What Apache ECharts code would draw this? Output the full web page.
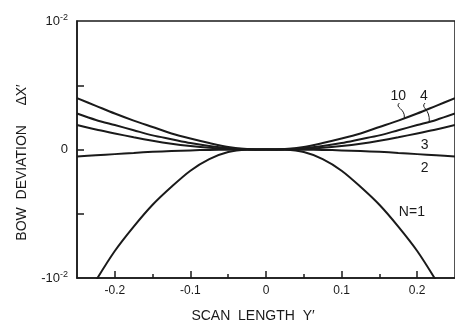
<!DOCTYPE html>
<html>
<head>
<meta charset="utf-8">
<script src="https://cdn.jsdelivr.net/npm/echarts@6/dist/echarts.min.js"></script>
<style>
html, body { margin: 0; padding: 0; background: #fff; }
#bow { width: 455px; height: 329px; }
</style>
</head>
<body>
<div id="bow"></div>
<script>
// scan length Y'
var scanY = [-0.25, -0.225, -0.2, -0.175, -0.15, -0.125, -0.1, -0.075, -0.05, -0.025, 0,
  0.025, 0.05, 0.075, 0.1, 0.125, 0.15, 0.175, 0.2, 0.225, 0.25];
// bow deviation dX', in units of 10^-2
var bowN1 = [-1.27, -1.02, -0.79, -0.6, -0.43, -0.29, -0.165, -0.075, -0.02, -0.002, 0,
  -0.002, -0.02, -0.075, -0.165, -0.29, -0.43, -0.6, -0.79, -1.02, -1.27];
var bowN2 = [-0.055, -0.045, -0.036, -0.027, -0.018, -0.012, -0.007, -0.003, -0.001, 0, 0,
  0, -0.001, -0.003, -0.007, -0.012, -0.018, -0.027, -0.036, -0.045, -0.055];
var bowN3 = [0.19, 0.155, 0.125, 0.095, 0.068, 0.045, 0.027, 0.013, 0.004, 0.001, 0,
  0.001, 0.004, 0.013, 0.027, 0.045, 0.068, 0.095, 0.125, 0.155, 0.19];
var bowN4 = [0.28, 0.23, 0.19, 0.15, 0.11, 0.08, 0.05, 0.027, 0.01, 0.002, 0,
  0.002, 0.01, 0.027, 0.05, 0.08, 0.11, 0.15, 0.19, 0.23, 0.28];
var bowN10 = [0.4, 0.34, 0.28, 0.225, 0.175, 0.125, 0.085, 0.05, 0.02, 0.004, 0,
  0.004, 0.02, 0.05, 0.085, 0.125, 0.175, 0.225, 0.28, 0.34, 0.4];

var xMajorTicks = [-0.2, -0.1, 0, 0.1, 0.2];
var xMinorTicks = [-0.15, -0.05, 0.05, 0.15];
var yTicks = [-0.5, 0, 0.5];
var yLabelVals = [-1, 0, 1];
var curveNames = ['N=1', '2', '3', '4', '10'];
var curveData = [bowN1, bowN2, bowN3, bowN4, bowN10];

var ink = '#1a1a1a';
var font = 'Liberation Sans';

var chart = echarts.init(document.getElementById('bow'));

var series = curveData.map(function (vals, k) {
  return {
    name: curveNames[k],
    type: 'line',
    data: scanY.map(function (x, i) { return [x, vals[i]]; }),
    smooth: 0.3,
    symbol: 'none',
    clip: true,
    silent: true,
    lineStyle: { color: ink, width: 2 }
  };
});

chart.setOption({
  animation: false,
  backgroundColor: '#fff',
  grid: {
    left: 77, top: 21, width: 380, height: 257,
    show: true, borderColor: ink, borderWidth: 1.5
  },
  xAxis: [{
    type: 'value', min: -0.25, max: 0.25, interval: 0.05,
    axisLine: { onZero: false, lineStyle: { color: ink, width: 1.5 } },
    axisTick: { inside: true, length: 7, customValues: xMajorTicks, lineStyle: { color: ink, width: 1.5 } },
    axisLabel: {
      customValues: xMajorTicks, margin: 7, color: ink, fontFamily: font, fontSize: 12,
      formatter: function (v) { return String(v); }
    },
    splitLine: { show: false },
    name: "SCAN  LENGTH  Y\u2032",
    nameLocation: 'middle', nameGap: 31,
    nameTextStyle: { color: ink, fontFamily: font, fontSize: 14, padding: [0, 26, 0, 0] }
  }, {
    type: 'value', min: -0.25, max: 0.25, interval: 0.05, position: 'bottom',
    axisLine: { show: false, onZero: false },
    axisTick: { inside: true, length: 4, customValues: xMinorTicks, lineStyle: { color: ink, width: 1.5 } },
    axisLabel: { show: false },
    splitLine: { show: false }
  }],
  yAxis: {
    type: 'value', min: -1, max: 1, interval: 0.5,
    axisLine: { show: true, onZero: false, lineStyle: { color: ink, width: 1.5 } },
    axisTick: { show: true, inside: true, length: 7, customValues: yTicks, lineStyle: { color: ink, width: 1.5 } },
    axisLabel: {
      customValues: yLabelVals, margin: 9, color: ink, fontFamily: font,
      formatter: function (v) {
        if (v === 1) return '{b|10}{s|-2}';
        if (v === -1) return '{b|-10}{s|-2}';
        return '{b|0}';
      },
      rich: {
        b: { fontSize: 13, fontFamily: font, color: ink, lineHeight: 16 },
        s: { fontSize: 9, fontFamily: font, color: ink, verticalAlign: 'top' }
      }
    },
    splitLine: { show: false },
    name: "BOW  DEVIATION     \u0394X\u2032",
    nameLocation: 'middle', nameGap: 48, nameRotate: 90,
    nameTextStyle: { color: ink, fontFamily: font, fontSize: 14, padding: [0, 26, 0, 0] }
  },
  series: series
});

// curve labels, anchored in data units
var curveLabels = [
  { text: '10', at: [0.175, 0.416], lead: [0.183, 0.245] },
  { text: '4', at: [0.209, 0.416], lead: [0.216, 0.212] },
  { text: '3', at: [0.21, 0.035] },
  { text: '2', at: [0.21, -0.144] },
  { text: 'N=1', at: [0.193, -0.486] }
];

var graphics = [];
curveLabels.forEach(function (c) {
  var p = chart.convertToPixel({ gridIndex: 0 }, c.at);
  graphics.push({
    type: 'text', x: p[0], y: p[1], silent: true,
    style: { text: c.text, fill: ink, font: '14px "' + font + '"', align: 'center', verticalAlign: 'middle' }
  });
  if (c.lead) {
    var q = chart.convertToPixel({ gridIndex: 0 }, c.lead);
    var x0 = p[0] + 1, y0 = p[1] + 7;
    graphics.push({
      type: 'bezierCurve', silent: true,
      shape: { x1: x0, y1: y0, cpx1: x0 - 5, cpy1: y0 + 5, cpx2: q[0] + 1, cpy2: y0 + 5, x2: q[0], y2: q[1] },
      style: { stroke: ink, lineWidth: 1, fill: null }
    });
  }
});
chart.setOption({ graphic: graphics });
</script>
</body>
</html>
